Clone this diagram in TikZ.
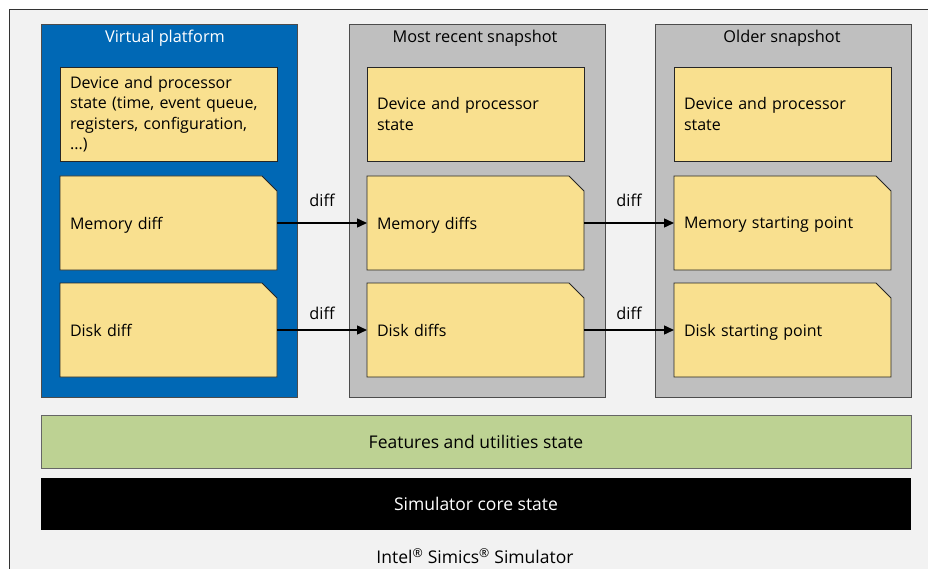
\documentclass[tikz,border=0pt]{standalone}
\usepackage{fontspec}
\setmainfont{Open Sans}
\usetikzlibrary{arrows.meta,calc}
\definecolor{bgc}{HTML}{F2F2F2}
\definecolor{vpblue}{HTML}{0068B5}
\definecolor{snapgray}{HTML}{BFBFBF}
\definecolor{boxyellow}{HTML}{F9E08F}
\definecolor{featgreen}{HTML}{BDD293}
\pgfdeclarelayer{back}
\pgfdeclarelayer{mid}
\pgfsetlayers{back,mid,main}
\tikzset{
  container/.style={draw=black!70, line width=0.8pt, minimum width=256pt, minimum height=373pt, anchor=north west, outer sep=0pt},
  title/.style={font=\fontsize{16.3}{19}\selectfont, anchor=center},
  statebox/.style={draw=black!85, line width=0.8pt, fill=boxyellow, anchor=north west, text width=197pt, inner xsep=10pt, minimum height=94pt, align=left, outer sep=0pt, font=\fontsize{16}{20.5}\selectfont},
  cutbox/.style={statebox, draw=none, fill=none, text depth=0pt},
  cutfill/.style={draw=black!85, line width=0.8pt, fill=boxyellow},
  bar/.style={anchor=north west, minimum width=870pt, outer sep=0pt, font=\fontsize{17.5}{20}\selectfont},
  flow/.style={line width=1.4pt, -{Triangle[length=10pt,width=9pt]}},
  difflabel/.style={font=\fontsize{16.3}{19}\selectfont, anchor=center}
}
\newcommand\cutshape[1]{\begin{pgfonlayer}{mid}\path[cutfill] (#1.north west) -- ([xshift=-15pt]#1.north east) -- ([yshift=-15pt]#1.north east) -- (#1.south east) -- (#1.south west) -- cycle;\end{pgfonlayer}}
\begin{document}
\begin{tikzpicture}[x=1pt,y=-1pt]
\useasboundingbox (0,0) rectangle (928,569);
\clip (0,0) rectangle (928,569);
\begin{pgfonlayer}{back}
\fill[white] (0,0) rectangle (928,569);
\path[fill=bgc, draw=black!80, line width=0.8pt] (9,9) rectangle (980,620);
\node[container, fill=vpblue] (vp) at (41,24) {};
\node[container, fill=snapgray] (s1) at (349,24) {};
\node[container, fill=snapgray] (s2) at (655,24) {};
\end{pgfonlayer}
\node[title, text=white] (vpt) at (165,38) {Virtual platform};
\node[title] (s1t) at (475,38) {Most recent snapshot};
\node[title] (s2t) at (782,38) {Older snapshot};
% virtual platform boxes
\node[statebox] (vdev) at (60,67) {Device and processor\\state (time, event queue,\\registers, configuration,\\...)};
\node[cutbox] (vmem) at (60,176) {Memory diff};
\node[cutbox] (vdisk) at (60,283) {Disk diff};
% most recent snapshot
\node[statebox] (rdev) at (367,67) {Device and processor\\state};
\node[cutbox] (rmem) at (367,176) {Memory diffs};
\node[cutbox] (rdisk) at (367,283) {Disk diffs};
% older snapshot
\node[statebox] (odev) at (674,67) {Device and processor\\state};
\node[cutbox] (omem) at (674,176) {Memory starting point};
\node[cutbox] (odisk) at (674,283) {Disk starting point};
\cutshape{vmem}\cutshape{vdisk}\cutshape{rmem}\cutshape{rdisk}\cutshape{omem}\cutshape{odisk}
% arrows
\draw[flow] (vmem.east) -- node[difflabel, yshift=23pt] (d1) {diff} (rmem.west);
\draw[flow] (vdisk.east) -- node[difflabel, yshift=17pt] (d2) {diff} (rdisk.west);
\draw[flow] (rmem.east) -- node[difflabel, yshift=23pt] (d3) {diff} (omem.west);
\draw[flow] (rdisk.east) -- node[difflabel, yshift=17pt] (d4) {diff} (odisk.west);
% bars
\node[bar, fill=featgreen, draw=black!60, line width=0.8pt, minimum height=53pt] (feat) at (41,415) {Features and utilities state};
\node[bar, fill=black, text=white, minimum height=52pt] (core) at (41,478) {Simulator core state};
\node[font=\fontsize{17.5}{20}\selectfont] (sim) at (475,556) {Intel\textsuperscript{\textregistered} Simics\textsuperscript{\textregistered} Simulator};
\end{tikzpicture}
\end{document}
